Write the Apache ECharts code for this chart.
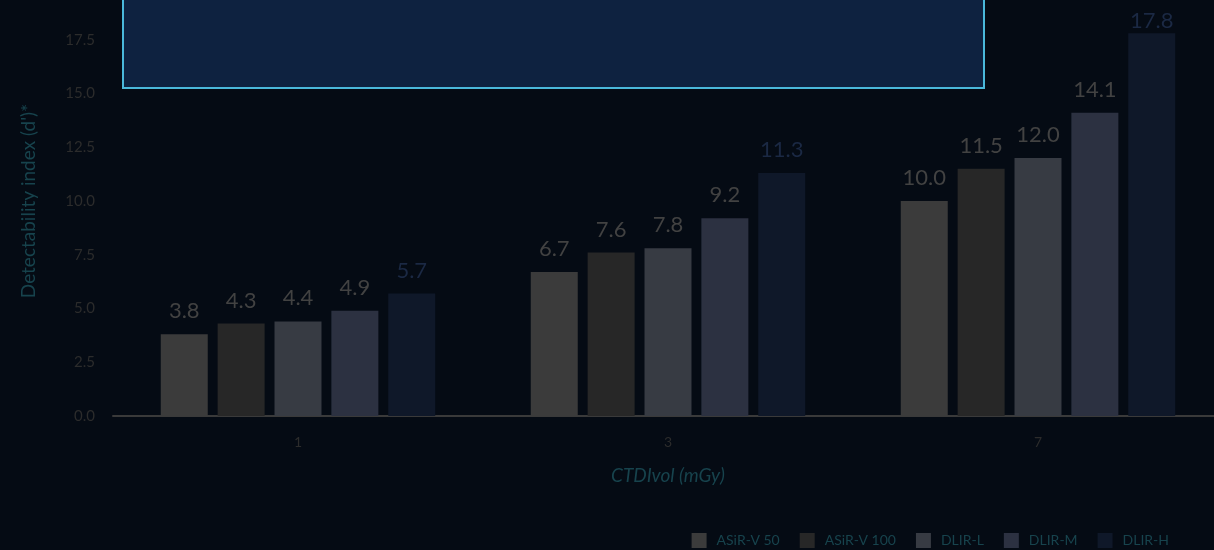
<!DOCTYPE html>
<html>
<head>
<meta charset="utf-8">
<script src="https://cdn.jsdelivr.net/npm/echarts@6/dist/echarts.min.js"></script>
<style>
  html, body { margin: 0; padding: 0; background: #050b14; }
  #chart { width: 1214px; height: 550px; }
</style>
</head>
<body>
<div id="chart"></div>
<script>
// CTDIvol dose levels (mGy)
const categories = ['1', '3', '7'];
// Reconstruction methods
const seriesNames = ['ASiR-V 50', 'ASiR-V 100', 'DLIR-L', 'DLIR-M', 'DLIR-H'];
// Detectability index per method
const asirV50  = [3.8, 6.7, 10.0];
const asirV100 = [4.3, 7.6, 11.5];
const dlirL    = [4.4, 7.8, 12.0];
const dlirM    = [4.9, 9.2, 14.1];
const dlirH    = [5.7, 11.3, 17.8];

const seriesValues = [asirV50, asirV100, dlirL, dlirM, dlirH];
const barColors = ['#3b3b3b', '#272727', '#373b43', '#2c3141', '#0f1829'];
const labelColors = ['#424242', '#424242', '#424242', '#424242', '#1b2944'];

const FONT = 'Lato, "Open Sans", sans-serif';
const TEAL = '#17434d';

// labels of bars reaching the top edge are tucked in closer so they stay visible
const toItem = v => (v > 17 ? { value: v, label: { distance: 1 } } : v);

const chart = echarts.init(document.getElementById('chart'));
chart.setOption({
  backgroundColor: '#050b14',
  animation: false,
  // plot area runs slightly past the top and right edges of the canvas
  grid: {
    left: 113, width: 1110, bottom: 134, height: 430,
    containLabel: false, outerBoundsMode: 'none'
  },
  legend: {
    right: 40,
    top: 528,
    itemWidth: 15,
    itemHeight: 15,
    itemGap: 20,
    icon: 'rect',
    textStyle: { color: TEAL, fontSize: 14, fontFamily: FONT, padding: [0, 0, 0, 5] },
    data: seriesNames
  },
  xAxis: {
    type: 'category',
    data: categories,
    name: 'CTDIvol (mGy)',
    nameLocation: 'middle',
    nameGap: 50,
    nameTextStyle: { color: TEAL, fontSize: 19, fontStyle: 'italic', fontFamily: FONT },
    axisLine: { lineStyle: { color: '#3a3a3a', width: 2 } },
    axisTick: { show: false },
    axisLabel: { color: '#2c2c2c', fontSize: 14, margin: 19, fontFamily: FONT }
  },
  yAxis: {
    type: 'value',
    min: 0,
    max: 20,
    interval: 2.5,
    name: "Detectability index (d')*",
    nameLocation: 'middle',
    nameGap: 75,
    nameTextStyle: { color: TEAL, fontSize: 19, fontFamily: FONT },
    axisLine: { show: false },
    axisTick: { show: false },
    splitLine: { show: false },
    axisLabel: {
      color: '#2c2c2c', fontSize: 15, margin: 18, fontFamily: FONT,
      formatter: v => v.toFixed(1)
    }
  },
  graphic: [{
    type: 'rect',
    shape: { x: 123, y: -10, width: 861, height: 98 },
    style: { fill: '#0e2240', stroke: '#4ab8da', lineWidth: 2 },
    z: 100
  }],
  series: seriesNames.map((name, i) => ({
    name,
    type: 'bar',
    data: seriesValues[i].map(toItem),
    barWidth: 47,
    barGap: '21%',
    itemStyle: { color: barColors[i] },
    label: {
      show: true,
      position: 'top',
      distance: 12,
      color: labelColors[i],
      fontSize: 22,
      fontFamily: FONT,
      formatter: p => p.value.toFixed(1)
    }
  }))
});
</script>
</body>
</html>
